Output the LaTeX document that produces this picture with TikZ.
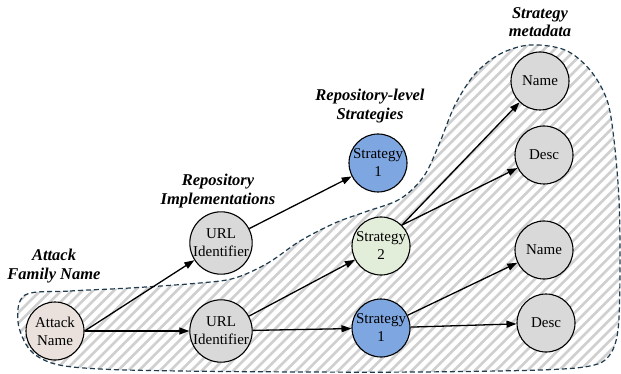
\documentclass[tikz,border=0pt]{standalone}
\usepackage{fontspec}
\setmainfont{Liberation Serif}
\usetikzlibrary{arrows.meta}
\definecolor{outl}{HTML}{1F3B4D}
\definecolor{hatch}{HTML}{D0D0D0}
\definecolor{gfill}{HTML}{D9D9D9}
\definecolor{pfill}{HTML}{EAE1DC}
\definecolor{bfill}{HTML}{7EA6E0}
\definecolor{lgfill}{HTML}{E3EEDA}
\tikzset{
  circ/.style={circle, draw=black, line width=1.1pt, minimum size=58pt, inner sep=0pt,
    align=center, font=\fontsize{15}{18}\selectfont},
  lab/.style={align=center, font=\fontsize{16.5}{18.5}\selectfont\bfseries\itshape},
  arr/.style={line width=1.3pt, -{Triangle[length=10pt,width=7pt]}},
}
\begin{document}
\begin{tikzpicture}[x=1pt,y=-1pt]
\useasboundingbox (0,0) rectangle (621,374);
% region
\def\regionpath{plot[smooth cycle, tension=0.55] coordinates {
 (25,295) (70,291) (130,288) (200,283) (235,278) (268,263) (300,241) (335,223)
 (365,212) (400,199) (424,176) (440,142) (455,105) (475,74) (500,54) (530,45)
 (565,50) (590,70) (607,100) (614,140) (619,200) (620,270) (618,330) (609,356)
 (590,366) (540,370) (420,372) (300,372) (180,371) (100,369) (55,364) (30,350) (18,322)}}
\begin{scope}
\clip \regionpath;
\foreach \k in {-400,-389.5,...,630}{
  \draw[hatch, line width=2.6pt] (\k,374) -- (\k+374,0);
}
\end{scope}
\draw[outl, line width=1.2pt, dash pattern=on 5pt off 3pt] \regionpath;
% nodes
\node[circ, fill=pfill] (an) at (55,331) {Attack\\Name};
\node[circ, fill=gfill] (u1) at (221,243) {URL\\Identifier};
\node[circ, fill=gfill] (u2) at (221,331) {URL\\Identifier};
\node[circ, fill=bfill] (s1t) at (378,163) {Strategy\\1};
\node[circ, fill=lgfill] (s2) at (381,246) {Strategy\\2};
\node[circ, fill=bfill] (s1b) at (381,328) {Strategy\\1};
\node[circ, fill=gfill] (n1) at (540,81) {Name};
\node[circ, fill=gfill] (d1) at (544,155) {Desc};
\node[circ, fill=gfill] (n2) at (544,250) {Name};
\node[circ, fill=gfill] (d2) at (546,323) {Desc};
% labels
\node[lab] (l1) at (54,266) {Attack\\Family Name};
\node[lab] (l2) at (218,191) {Repository\\Implementations};
\node[lab] (l3) at (370,106) {Repository-level\\Strategies};
\node[lab] (l4) at (540,22) {Strategy\\metadata};
% edges
\draw[arr] (an.east) -- (u1);
\draw[arr] (an.east) -- (u2.west);
\draw[arr] (u1) -- (s1t);
\draw[arr] (u2) -- (s2);
\draw[arr] (u2) -- (s1b);
\draw[arr] (s2.45) -- (n1);
\draw[arr] (s2.45) -- (d1);
\draw[arr] (s1b) -- (n2);
\draw[arr] (s1b) -- (d2);
\end{tikzpicture}
\end{document}
